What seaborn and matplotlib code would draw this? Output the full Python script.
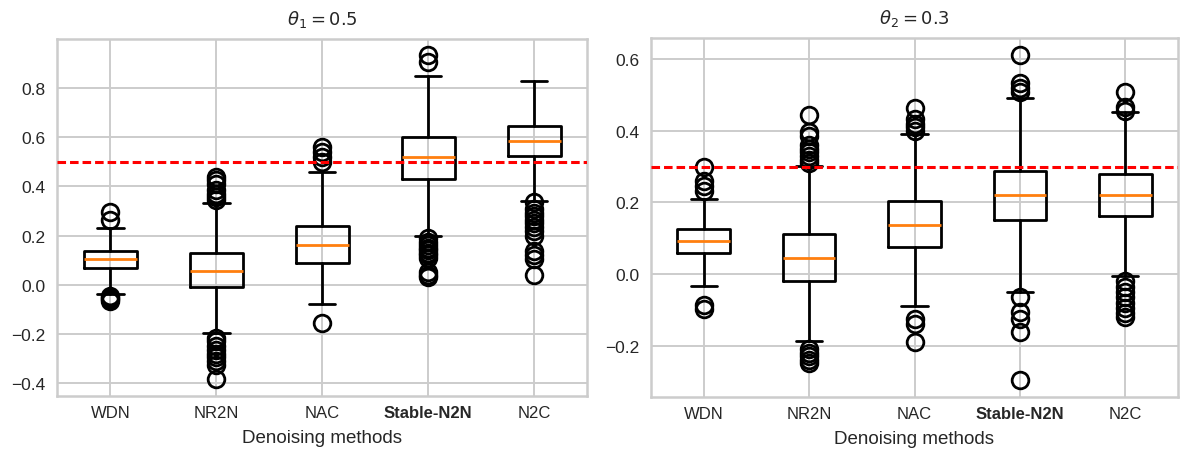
import matplotlib
matplotlib.use("Agg")
import matplotlib.pyplot as plt
import seaborn as sns

methods = ["WDN", "NR2N", "NAC", "Stable-N2N", "N2C"]

# Panel 1: theta_1 = 0.5
t1_true = 0.5
t1_q1 = [0.067, -0.007, 0.088, 0.429, 0.522]
t1_med = [0.105, 0.058, 0.163, 0.521, 0.586]
t1_q3 = [0.139, 0.128, 0.239, 0.600, 0.646]
t1_lo = [-0.036, -0.194, -0.078, 0.200, 0.339]
t1_hi = [0.232, 0.332, 0.460, 0.850, 0.827]
t1_fliers = [
    [0.296, 0.262, -0.045, -0.052, -0.058, -0.064],
    [0.439, 0.425, 0.41, 0.385, 0.37, 0.355, 0.344,
     -0.215, -0.23, -0.25, -0.265, -0.28, -0.295, -0.31, -0.325, -0.385],
    [0.56, 0.538, 0.518, 0.499, -0.155],
    [0.934, 0.904, 0.19, 0.175, 0.16, 0.15, 0.14, 0.13, 0.12, 0.11, 0.05, 0.04, 0.03],
    [0.335, 0.31, 0.29, 0.28, 0.263, 0.25, 0.236, 0.22, 0.2, 0.138, 0.12, 0.105, 0.04],
]

# Panel 2: theta_2 = 0.3
t2_true = 0.3
t2_q1 = [0.059, -0.019, 0.076, 0.150, 0.161]
t2_med = [0.091, 0.046, 0.138, 0.221, 0.221]
t2_q3 = [0.125, 0.112, 0.204, 0.288, 0.279]
t2_lo = [-0.033, -0.188, -0.090, -0.051, -0.005]
t2_hi = [0.211, 0.303, 0.391, 0.491, 0.454]
t2_fliers = [
    [0.30, 0.261, 0.247, 0.233, -0.087, -0.098],
    [0.444, 0.396, 0.385, 0.36, 0.35, 0.34, 0.33, 0.32, 0.31,
     -0.21, -0.22, -0.23, -0.24, -0.25],
    [0.463, 0.433, 0.419, 0.41, 0.40, -0.126, -0.14, -0.189],
    [0.613, 0.535, 0.52, 0.51, -0.065, -0.107, -0.126, -0.163, -0.295],
    [0.51, 0.466, 0.456, -0.02, -0.035, -0.05, -0.065, -0.08, -0.095, -0.11, -0.12],
]

sns.set_theme(style="whitegrid")
plt.rcParams["font.family"] = ["Liberation Sans", "DejaVu Sans"]
plt.rcParams["axes.edgecolor"] = "#cccccc"
plt.rcParams["axes.linewidth"] = 1.8
plt.rcParams["grid.color"] = "#cccccc"
plt.rcParams["grid.linewidth"] = 1.4

fig = plt.figure(figsize=(11.8, 4.56), dpi=100)
ax1 = fig.add_axes([0.0486, 0.1300, 0.4489, 0.7822])
ax2 = fig.add_axes([0.5517, 0.1279, 0.4466, 0.7860])


def make_stats(q1, med, q3, lo, hi, fliers):
    return [dict(med=m, q1=a, q3=b, whislo=l, whishi=h, fliers=f, label=n)
            for n, a, m, b, l, h, f in zip(methods, q1, med, q3, lo, hi, fliers)]


line_kw = dict(color="black", linewidth=2.0)
panels = [
    (ax1, make_stats(t1_q1, t1_med, t1_q3, t1_lo, t1_hi, t1_fliers), t1_true,
     r"$\theta_1 = 0.5$", (-0.451, 0.999), [-0.4, -0.2, 0.0, 0.2, 0.4, 0.6, 0.8]),
    (ax2, make_stats(t2_q1, t2_med, t2_q3, t2_lo, t2_hi, t2_fliers), t2_true,
     r"$\theta_2 = 0.3$", (-0.343, 0.659), [-0.2, 0.0, 0.2, 0.4, 0.6]),
]

for ax, stats, truth, title, ylim, yt in panels:
    ax.bxp(stats, widths=0.5, showfliers=True,
           boxprops=line_kw, whiskerprops=line_kw, capprops=line_kw,
           medianprops=dict(color="#ff7f0e", linewidth=2.0),
           flierprops=dict(marker="o", markerfacecolor="none",
                           markeredgecolor="black", markersize=12,
                           markeredgewidth=2.0))
    ax.axhline(truth, color="red", linestyle="--", linewidth=2.2,
               dashes=(2.8, 1.3), zorder=5)
    ax.set_xlim(0.5, 5.5)
    ax.set_ylim(*ylim)
    ax.set_yticks(yt)
    ax.set_yticklabels([f"{v:.1f}".replace("-", "\u2212") for v in yt])
    ax.set_title(title, fontsize=13, color="#262626", pad=11)
    ax.set_xlabel("Denoising methods", fontsize=13.5, color="#262626", labelpad=6.5)
    ax.tick_params(axis="x", labelsize=12, length=0, pad=6.5)
    ax.tick_params(axis="y", labelsize=12.5, length=0, pad=8.5)
    for lbl in ax.get_xticklabels():
        if lbl.get_text() == "Stable-N2N":
            lbl.set_fontweight("bold")
    ax.grid(True)

fig.savefig("out.png", dpi=100)
